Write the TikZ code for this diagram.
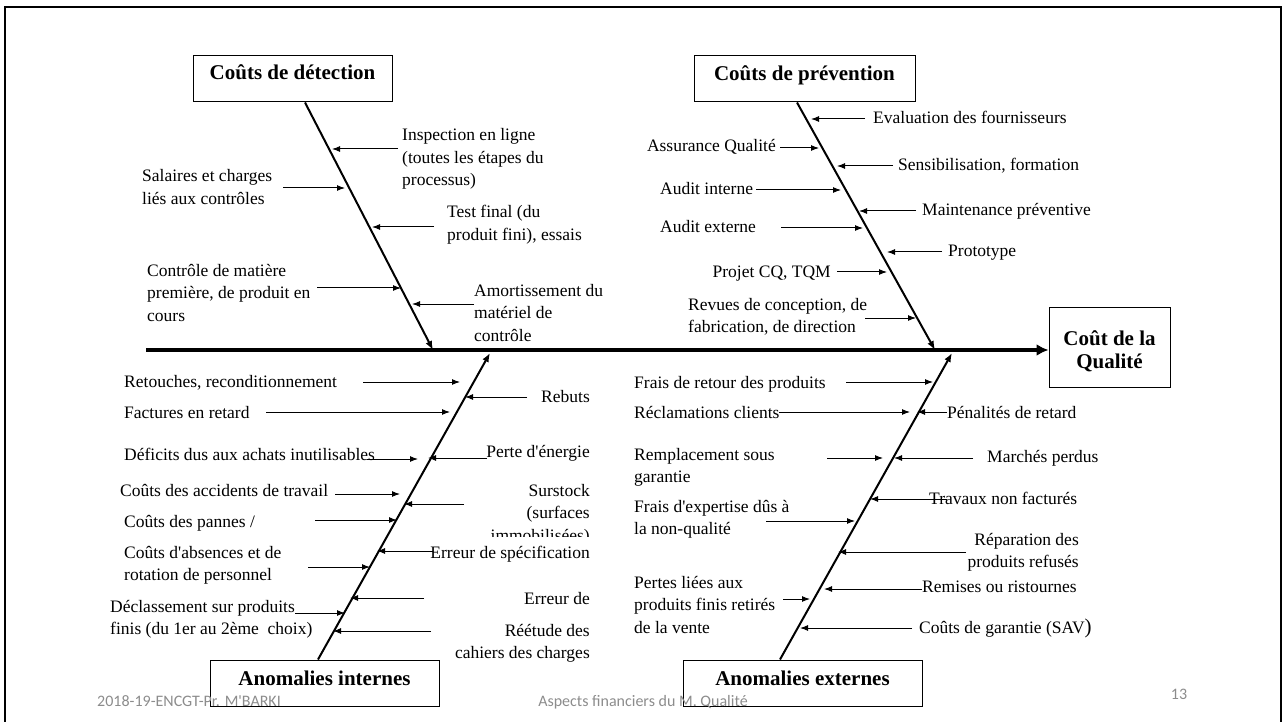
\documentclass[tikz,border=0pt]{standalone}
\usepackage{fontspec}
\setmainfont{Liberation Serif}
\newfontfamily\footfont{Carlito}
\usetikzlibrary{arrows.meta}
\definecolor{footgray}{gray}{0.55}

\begin{document}
\begin{tikzpicture}[x=1pt, y=-1pt,
                    every node/.style = {inner sep=0pt,
                    font=\fontsize{17.5}{22.5}\selectfont},
                    lbl/.style = {anchor=base west, align=left},
                    rlbl/.style = {anchor=base east, align=right},
                    box/.style = {draw, line width=1pt, minimum height=46pt,
                    font=\fontsize{21}{23}\selectfont\bfseries},
                    cause/.style = {draw, line width=1pt, -{Latex[length=8pt,width=6pt]}},
                    bone/.style = {draw, line width=2pt, -{Latex[length=9pt,width=7pt]}},
                    spine/.style = {draw, line width=4.5pt, -{Latex[length=12pt,width=12pt]}},
                    foot/.style = {anchor=base, text=footgray,
                    font=\footfont\fontsize{16}{18}\selectfont}]
  \useasboundingbox (0,0) rectangle (1283,722);
  \draw[line width=2pt] (5,740) -- (5,7) -- (1281,7) -- (1281,740);

  % main boxes
  \node[box, minimum width=199pt, text height=14pt, text depth=12pt] (det) at (292.5,79) {Coûts de détection};
  \node[box, minimum width=221pt, text height=14pt, text depth=10pt] (prev) at (804.5,79) {Coûts de prévention};
  \node[box, minimum width=229pt, text height=14pt, text depth=10pt] (intern) at (324.5,683) {Anomalies internes};
  \node[box, minimum width=239pt, text height=14pt, text depth=10pt] (extern) at (802.5,683) {Anomalies externes};
  \node[box, minimum width=121pt, minimum height=80pt, align=center,
        text height=47pt, text depth=4pt] (qual) at (1109.5,347) {Coût de la\\Qualité};

  % spine and bones
  \coordinate (tail) at (146,350);
  \coordinate (dettip) at (433,350);
  \coordinate (prevtip) at (935,350);
  \coordinate (inttip) at (490,353);
  \coordinate (exttip) at (952,353);
  \draw[spine] (tail) -- (tail -| qual.west);
  \draw[bone] ([xshift=12.5pt]det.south) -- (dettip);
  \draw[bone] ([xshift=-7.5pt]prev.south) -- (prevtip);
  \draw[bone] ([xshift=-6.5pt]intern.north) -- (inttip);
  \draw[bone] ([xshift=-22.5pt]extern.north) -- (exttip);

  % small arrows: name/start/tip/y
  \foreach \n/\a/\b/\y in {d1/398/332/149, d2/283/345/188, d3/434/372/227,
      d4/317/401/288, d5/474/412/304,
      p1/865/811/119, p2/780/819/148, p3/893/837/166, p4/756/841/190,
      p5/916/859/211, p6/781/863/228, p7/942/887/252, p8/837/887/272,
      p9/865/916/318,
      i1/363/460/382, i2/527/465/397, i3/266/450/412, i4/367/418/459,
      i5/487/428/458, i6/335/400/494, i7/464/404/504, i8/315/397/520,
      i9/308/370/567, i10/433/377/551, i11/424/350/598, i12/295/345/613,
      i13/431/333/631,
      e1/846/933/382, e2/779/910/412, e3/947/917/412, e4/827/883/458,
      e5/973/894/458, e6/947/870/499, e7/766/855/521, e8/966/838/552,
      e9/922/824/589, e10/783/810/599, e11/912/800/628}
  {
    \coordinate (\n-s) at (\a,\y);
    \coordinate (\n-t) at (\b,\y);
    \draw[cause] (\n-s) -- (\n-t);
  }

  % detection (y = baseline of last line)
  \node[lbl] (d1) at (402,186) {Inspection en ligne\\(toutes les étapes du\\processus)};
  \node[lbl] (d2) at (142,204.5) {Salaires et charges\\liés aux contrôles};
  \node[lbl] (d3) at (447,240.5) {Test final (du\\produit fini), essais};
  \node[lbl] (d4) at (147,321) {Contrôle de matière\\première, de produit en\\cours};
  \node[lbl] (d5) at (474,341) {Amortissement du\\matériel de\\contrôle};

  % prevention
  \node[lbl] (p1) at (873,124) {Evaluation des fournisseurs};
  \node[rlbl] (p2) at (776,152) {Assurance Qualité};
  \node[lbl] (p3) at (898,171) {Sensibilisation, formation};
  \node[lbl] (p4) at (660,195) {Audit interne};
  \node[lbl] (p5) at (922,216) {Maintenance préventive};
  \node[lbl] (p6) at (660,233) {Audit externe};
  \node[lbl] (p7) at (948,257) {Prototype};
  \node[rlbl] (p8) at (831,277) {Projet CQ, TQM};
  \node[lbl] (p9) at (688,332.5) {Revues de conception, de\\fabrication, de direction};

  % internal anomalies
  \node[lbl] (i1) at (124,387) {Retouches, reconditionnement};
  \node[rlbl] (i2) at (590,402) {Rebuts};
  \node[lbl] (i3) at (124,418) {Factures en retard};
  \node[lbl] (i4) at (124,460) {Déficits dus aux achats inutilisables};
  \node[rlbl] (i5) at (590,457) {Perte d\textquotesingle énergie};
  \node[lbl] (i6) at (120,496) {Coûts des accidents de travail};
  \begin{scope}
    \clip (420,470) rectangle (600,536);
    \node[rlbl] (i7) at (590,541) {Surstock\\(surfaces\\immobilisées)};
  \end{scope}
  \node[lbl] (i8) at (124,527) {Coûts des pannes /};
  \node[lbl] (i9) at (124,580.5) {Coûts d\textquotesingle absences et de\\rotation de personnel};
  \node[rlbl] (i10) at (590,558) {Erreur de spécification};
  \node[rlbl] (i11) at (590,604) {Erreur de};
  \node[lbl] (i12) at (110,634.5) {Déclassement sur produits\\finis (du 1er au 2ème~ choix)};
  \node[rlbl] (i13) at (590,658.5) {Réétude des\\cahiers des charges};

  % external anomalies
  \node[lbl] (e1) at (634,388) {Frais de retour des produits};
  \node[lbl] (e2) at (634,418) {Réclamations clients};
  \node[lbl] (e3) at (947,418) {Pénalités de retard};
  \node[lbl] (e4) at (634,482.5) {Remplacement sous\\garantie};
  \node[lbl] (e5) at (987,462) {Marchés perdus};
  \node[lbl] (e6) at (929,504) {Travaux non facturés};
  \node[lbl] (e7) at (634,534.5) {Frais d\textquotesingle expertise dûs à\\la non-qualité};
  \node[rlbl] (e8) at (1079,567.5) {Réparation des\\produits refusés};
  \node[lbl] (e9) at (922,592) {Remises ou ristournes};
  \node[lbl] (e10) at (634,633) {Pertes liées aux\\produits finis retirés\\de la vente};
  \node[lbl] (e11) at (919,633) {Coûts de garantie (SAV{\fontsize{21}{23}\selectfont)}};

  % footer
  \node[foot, anchor=base west] (date) at (97,706) {2018-19-ENCGT-Pr. M\textquotesingle BARKI};
  \node[foot] (title) at (643,706) {Aspects financiers du M. Qualité};
  \node[foot] (page) at (1179,699) {13};
\end{tikzpicture}
\end{document}
